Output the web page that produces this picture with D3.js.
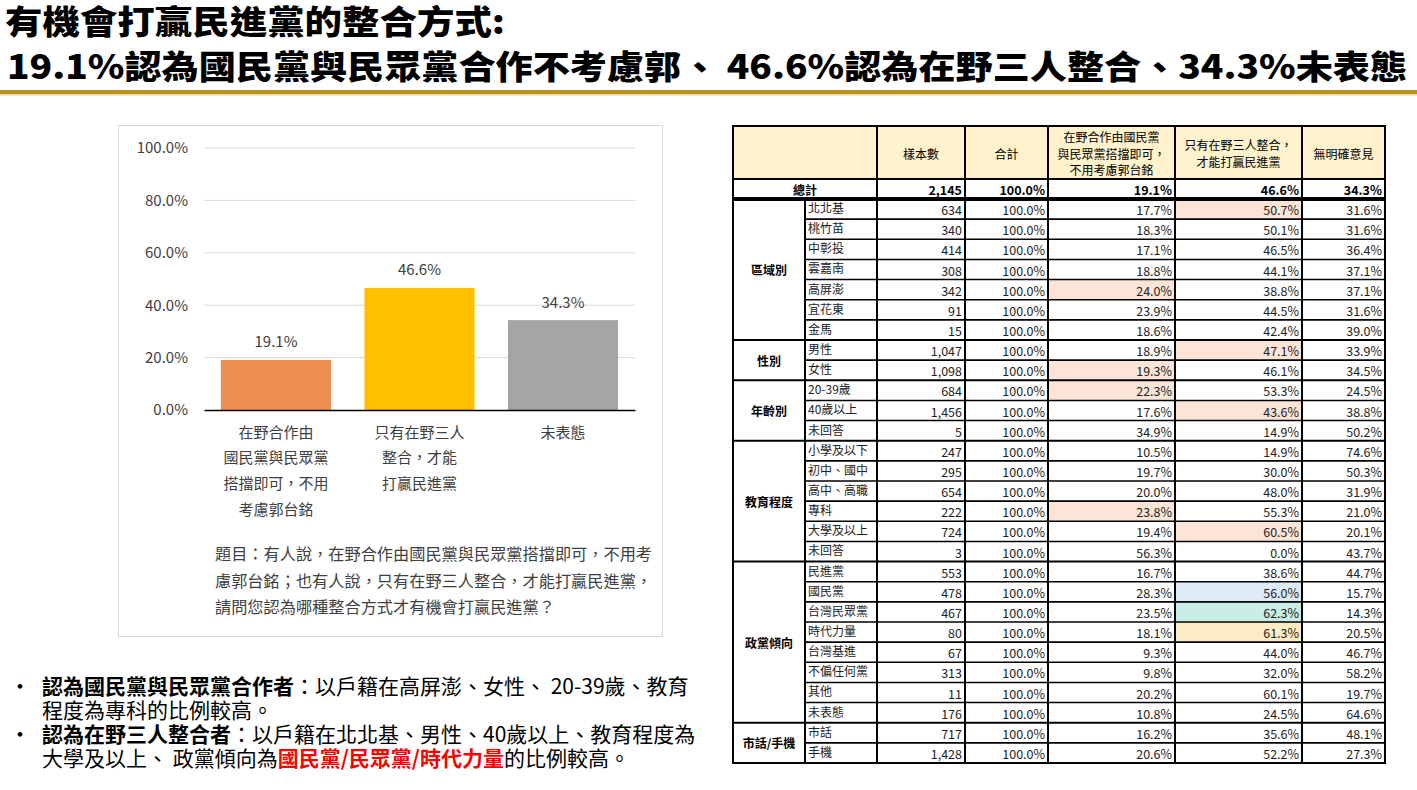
<!DOCTYPE html>
<html><head><meta charset="utf-8">
<script src="https://cdn.jsdelivr.net/npm/d3@7"></script>
<style>body{margin:0;background:#fff;} svg{display:block;}</style>
</head><body>
<script>
// ---------- DATA ----------
const titleLines = ["有機會打贏民進黨的整合方式:", "19.1%認為國民黨與民眾黨合作不考慮郭、 46.6%認為在野三人整合、34.3%未表態"];
const categories = ["在野合作由國民黨與民眾黨搭擋即可，不用考慮郭台銘", "只有在野三人整合，才能打贏民進黨", "未表態"];
const categoryLines = [["在野合作由","國民黨與民眾黨","搭擋即可，不用","考慮郭台銘"],["只有在野三人","整合，才能","打贏民進黨"],["未表態"]];
const values = [19.1, 46.6, 34.3];
const barColors = ["#EE8F4F", "#FFC000", "#A5A5A5"];
const yTicks = [0, 20, 40, 60, 80, 100];
const questionLines = ["題目：有人說，在野合作由國民黨與民眾黨搭擋即可，不用考","慮郭台銘；也有人說，只有在野三人整合，才能打贏民進黨，","請問您認為哪種整合方式才有機會打贏民進黨？"];

const tableHeaders = [["樣本數"],["合計"],["在野合作由國民黨","與民眾黨搭擋即可，","不用考慮郭台銘"],["只有在野三人整合，","才能打贏民進黨"],["無明確意見"]];
const totalRow = ["總計", "2,145", "100.0%", "19.1%", "46.6%", "34.3%"];
const groupNames = ["區域別","性別","年齡別","教育程度","政黨傾向","市話/手機"];
const groupSizes = [7, 2, 3, 6, 8, 2];
const rowLabels = ["北北基","桃竹苗","中彰投","雲嘉南","高屏澎","宜花東","金馬",
  "男性","女性","20-39歲","40歲以上","未回答",
  "小學及以下","初中、國中","高中、高職","專科","大學及以上","未回答",
  "民進黨","國民黨","台灣民眾黨","時代力量","台灣基進","不偏任何黨","其他","未表態",
  "市話","手機"];
const sampleSizes = [634,340,414,308,342,91,15, 1047,1098, 684,1456,5, 247,295,654,222,724,3, 553,478,467,80,67,313,11,176, 717,1428];
const colAValues = [17.7,18.3,17.1,18.8,24.0,23.9,18.6, 18.9,19.3, 22.3,17.6,34.9, 10.5,19.7,20.0,23.8,19.4,56.3, 16.7,28.3,23.5,18.1,9.3,9.8,20.2,10.8, 16.2,20.6];
const colBValues = [50.7,50.1,46.5,44.1,38.8,44.5,42.4, 47.1,46.1, 53.3,43.6,14.9, 14.9,30.0,48.0,55.3,60.5,0.0, 38.6,56.0,62.3,61.3,44.0,32.0,60.1,24.5, 35.6,52.2];
const colCValues = [31.6,31.6,36.4,37.1,37.1,31.6,39.0, 33.9,34.5, 24.5,38.8,50.2, 74.6,50.3,31.9,21.0,20.1,43.7, 44.7,15.7,14.3,20.5,46.7,58.2,19.7,64.6, 48.1,27.3];
// highlighted cells: [row index, column (0=A,1=B,2=C), colour]
const highlights = [[0,1,"#FCE4D6"],[4,0,"#FCE4D6"],[7,1,"#FCE4D6"],[8,0,"#FCE4D6"],[9,0,"#FCE4D6"],[10,1,"#FCE4D6"],
  [15,0,"#FCE4D6"],[16,1,"#FCE4D6"],[19,1,"#DDEBF7"],[20,1,"#C9EEE8"],[21,1,"#FDEBC4"]];

const bullets = [
  {bold:"認為國民黨與民眾黨合作者", lines:[[["：以戶籍在高屏澎、女性、 20-39歲、教育","n"]],[["程度為專科的比例較高。","n"]]]},
  {bold:"認為在野三人整合者", lines:[[["：以戶籍在北北基、男性、40歲以上、教育程度為","n"]],[["大學及以上、 政黨傾向為","n"],["國民黨/民眾黨/時代力量","r"],["的比例較高。","n"]]]}
];

// ---------- DRAW ----------
const CJK = "'Noto Sans CJK TC','Noto Sans CJK SC','Noto Sans',sans-serif";
const W = 1417, H = 790;
const svg = d3.select("body").append("svg").attr("width", W).attr("height", H)
  .style("font-family", CJK);
svg.append("rect").attr("width", W).attr("height", H).attr("fill", "#fff");

// title
svg.append("text").attr("x", 5).attr("y", 34).attr("font-size", 33).attr("font-weight", 900)
  .attr("fill", "#000").attr("textLength", 500).attr("lengthAdjust", "spacingAndGlyphs").text(titleLines[0]);
svg.append("text").attr("x", 7).attr("y", 79).attr("font-size", 33).attr("font-weight", 900)
  .attr("fill", "#000").attr("textLength", 1400).attr("lengthAdjust", "spacingAndGlyphs").text(titleLines[1]);
svg.append("rect").attr("x", 0).attr("y", 90).attr("width", W).attr("height", 4).attr("fill", "#B8921E");
svg.append("rect").attr("x", 0).attr("y", 94).attr("width", W).attr("height", 1.5).attr("fill", "#EAD89E");

// chart frame
svg.append("rect").attr("x", 118.5).attr("y", 125.5).attr("width", 544).attr("height", 511)
  .attr("fill", "#fff").attr("stroke", "#D9D9D9").attr("stroke-width", 1);

const y = d3.scaleLinear().domain([0, 100]).range([410, 148]);
const x = d3.scaleBand().domain(categories).range([204, 635]).paddingInner(0.233).paddingOuter(0.118);

const g = svg.append("g");
// gridlines
g.selectAll("line.grid").data(yTicks.filter(d => d > 0)).join("line")
  .attr("x1", 204).attr("x2", 635).attr("y1", d => y(d)).attr("y2", d => y(d))
  .attr("stroke", "#D9D9D9").attr("stroke-width", 1);
// y axis labels via axis
const yAxis = d3.axisLeft(y).tickValues(yTicks).tickFormat(d => d.toFixed(1) + "%").tickSize(0).tickPadding(0);
const ya = g.append("g").attr("transform", "translate(188,0)").call(yAxis);
ya.select(".domain").remove();
ya.selectAll("text").attr("font-size", 15).attr("fill", "#404040").attr("font-family", CJK);

// bars
g.selectAll("rect.bar").data(values).join("rect")
  .attr("x", (d, i) => x(categories[i])).attr("width", x.bandwidth())
  .attr("y", d => y(d)).attr("height", d => y(0) - y(d)).attr("fill", (d, i) => barColors[i]);
// value labels
g.selectAll("text.val").data(values).join("text")
  .attr("x", (d, i) => x(categories[i]) + x.bandwidth() / 2).attr("y", d => y(d) - 19)
  .attr("text-anchor", "middle").attr("dominant-baseline", "central")
  .attr("font-size", 15).attr("fill", "#404040").text(d => d.toFixed(1) + "%");
// x axis line
const xa = g.append("g").attr("transform", `translate(0,${y(0)})`)
  .call(d3.axisBottom(x).tickSize(0).tickFormat(""));
xa.select(".domain").attr("stroke", "#000").attr("stroke-width", 1.5);
// category labels
categoryLines.forEach((lines, i) => {
  lines.forEach((ln, j) => {
    g.append("text").attr("x", x(categories[i]) + x.bandwidth() / 2).attr("y", 431 + j * 25.7)
      .attr("text-anchor", "middle").attr("dominant-baseline", "central")
      .attr("font-size", 15).attr("fill", "#404040").text(ln);
  });
});
// question text
questionLines.forEach((ln, j) => {
  g.append("text").attr("x", 215).attr("y", 553 + j * 26.5).attr("dominant-baseline", "central")
    .attr("font-size", 16.2).attr("fill", "#404040").text(ln);
});

// bullets
let by = [694, 718, 742, 766];
bullets.forEach((b, bi) => {
  svg.append("text").attr("x", 9).attr("y", by[bi * 2]).attr("font-size", 22).attr("fill", "#000").text("•");
  b.lines.forEach((parts, li) => {
    const t = svg.append("text").attr("x", 42).attr("y", by[bi * 2 + li]).attr("font-size", 21).attr("fill", "#000");
    if (li === 0) t.append("tspan").attr("font-weight", 700).text(b.bold);
    parts.forEach(p => {
      const s = t.append("tspan").text(p[0]);
      if (p[1] === "r") s.attr("font-weight", 700).attr("fill", "#FF0000");
    });
  });
});

// ---------- TABLE ----------
const colX = [733, 805, 877, 965, 1048, 1175, 1302, 1385];
const tTop = 126, hBot = 179, totBot = 199, tBot = 763;
const rowY = d3.scaleBand().domain(d3.range(rowLabels.length)).range([totBot, tBot]);
const tg = svg.append("g");
// header background
tg.append("rect").attr("x", colX[0]).attr("y", tTop).attr("width", colX[7] - colX[0]).attr("height", hBot - tTop).attr("fill", "#FFF2CC");
// highlights
tg.selectAll("rect.hl").data(highlights).join("rect")
  .attr("x", d => colX[4 + d[1]]).attr("y", d => rowY(d[0]))
  .attr("width", d => colX[5 + d[1]] - colX[4 + d[1]]).attr("height", rowY.bandwidth())
  .attr("fill", d => d[2]);
// header texts
tableHeaders.forEach((lines, i) => {
  const cx = (colX[2 + i] + colX[3 + i]) / 2;
  const n = lines.length;
  lines.forEach((ln, j) => {
    tg.append("text").attr("x", cx).attr("y", 153 + (j - (n - 1) / 2) * 16.5)
      .attr("text-anchor", "middle").attr("dominant-baseline", "central")
      .attr("font-size", 12).attr("fill", "#000").text(ln);
  });
});
// total row
const totY = (hBot + totBot) / 2;
tg.append("text").attr("x", (colX[0] + colX[2]) / 2).attr("y", totY).attr("text-anchor", "middle")
  .attr("dominant-baseline", "central").attr("font-size", 12).attr("font-weight", 700).text(totalRow[0]);
totalRow.slice(1).forEach((v, i) => {
  tg.append("text").attr("x", colX[3 + i] - 3).attr("y", totY).attr("text-anchor", "end")
    .attr("dominant-baseline", "central").attr("font-size", 12.5).attr("font-weight", 700).attr("fill", "#000").text(v);
});
// data rows
const fmtN = d3.format(",");
rowLabels.forEach((lab, r) => {
  const top = rowY(r), cy = top + rowY.bandwidth() / 2;
  tg.append("text").attr("x", colX[1] + 3).attr("y", top + 8.5).attr("dominant-baseline", "central")
    .attr("font-size", 12).attr("fill", "#222").text(lab);
  const cells = [fmtN(sampleSizes[r]), "100.0%", colAValues[r].toFixed(1) + "%", colBValues[r].toFixed(1) + "%", colCValues[r].toFixed(1) + "%"];
  cells.forEach((c, ci) => {
    tg.append("text").attr("x", colX[3 + ci] - 3).attr("y", cy + 0.5).attr("text-anchor", "end")
      .attr("dominant-baseline", "central").attr("font-size", 12.5).attr("fill", "#222").text(c);
  });
});
// group labels & boundaries
let start = 0;
const groupStarts = [];
groupNames.forEach((gn, gi) => {
  const y0 = rowY(start), y1 = rowY(start + groupSizes[gi] - 1) + rowY.bandwidth();
  tg.append("text").attr("x", (colX[0] + colX[1]) / 2).attr("y", (y0 + y1) / 2)
    .attr("text-anchor", "middle").attr("dominant-baseline", "central")
    .attr("font-size", 12).attr("font-weight", 700).attr("fill", "#000").text(gn);
  groupStarts.push(start);
  start += groupSizes[gi];
});
// lines
const L = (x1, y1, x2, y2, w) => tg.append("line").attr("x1", x1).attr("y1", y1).attr("x2", x2).attr("y2", y2)
  .attr("stroke", "#000").attr("stroke-width", w);
for (let r = 1; r < rowLabels.length; r++) {
  const yy = rowY(r);
  if (groupStarts.includes(r)) L(colX[0], yy, colX[7], yy, 2);
  else L(colX[1], yy, colX[7], yy, 1.6);
}
L(colX[0], hBot, colX[7], hBot, 2);
L(colX[0], totBot, colX[7], totBot, 4);
[2, 3, 4, 5, 6].forEach(i => L(colX[i], tTop, colX[i], tBot, 2));
L(colX[1], totBot, colX[1], tBot, 2);
tg.append("rect").attr("x", colX[0]).attr("y", tTop).attr("width", colX[7] - colX[0]).attr("height", tBot - tTop)
  .attr("fill", "none").attr("stroke", "#000").attr("stroke-width", 2);
</script>
</body></html>
